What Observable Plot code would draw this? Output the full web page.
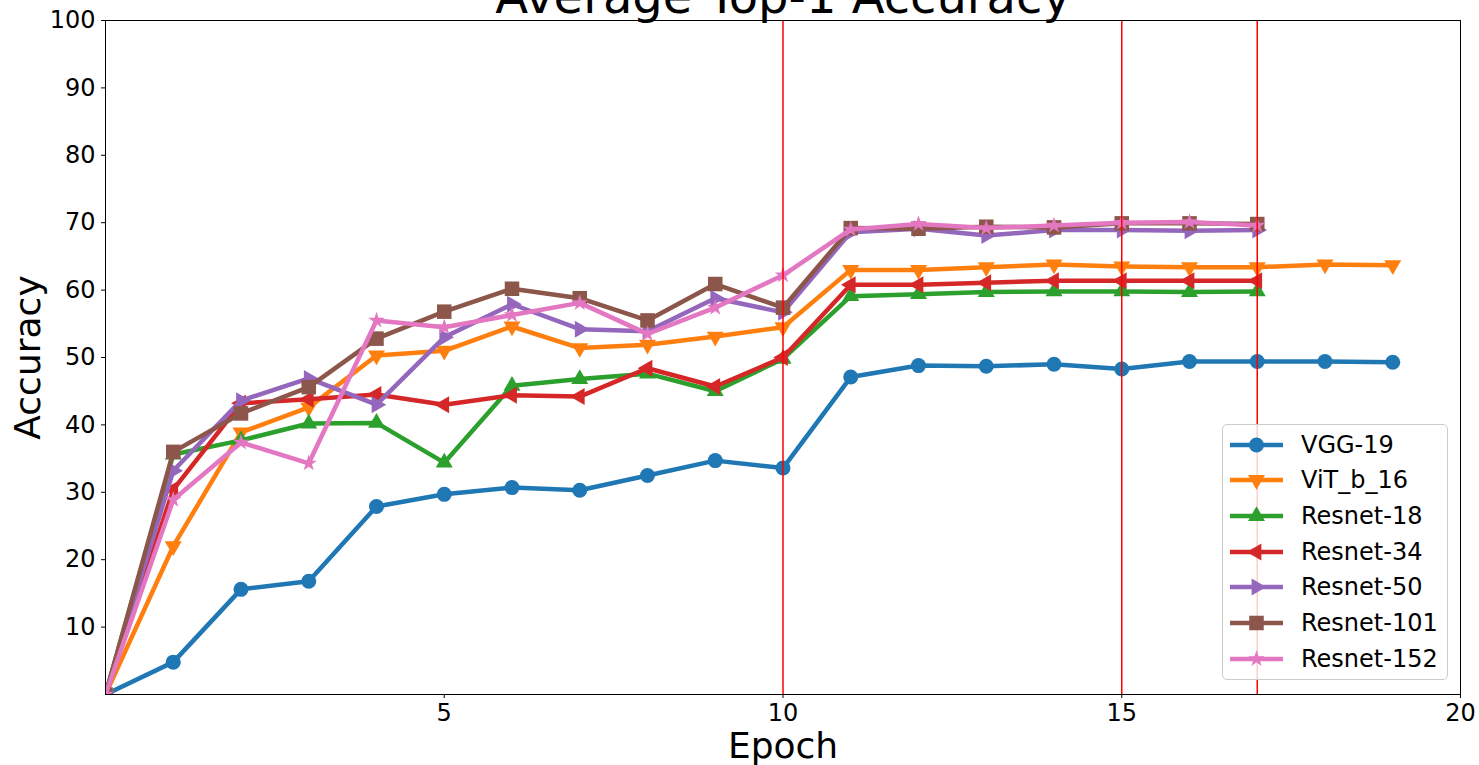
<!DOCTYPE html>
<html><head><meta charset="utf-8">
<script src="https://cdn.jsdelivr.net/npm/d3@7"></script>
<script src="https://cdn.jsdelivr.net/npm/@observablehq/plot@0.6"></script>
<style>
body{margin:0;background:#fff;}
#wrap{position:relative;width:1479px;height:765px;overflow:hidden;font-family:"DejaVu Sans",sans-serif;}
#legend{position:absolute;left:1222px;top:424px;width:224px;height:254px;background:rgba(255,255,255,0.8);border:1px solid #cccccc;border-radius:5px;box-sizing:content-box;}
.row{position:absolute;left:0;height:36px;display:flex;align-items:center;}
.row span{font-size:24px;color:#000;margin-left:3px;white-space:nowrap;}
</style>
</head><body><div id="wrap"></div>
<script>
const epochs = [0,1,2,3,4,5,6,7,8,9,10,11,12,13,14,15,16,17,18,19];
const vgg19    = [0, 4.8, 15.6, 16.8, 27.9, 29.7, 30.7, 30.3, 32.5, 34.7, 33.6, 47.1, 48.8, 48.7, 49.0, 48.3, 49.4, 49.4, 49.4, 49.3];
const vitB16   = [0, 22.0, 38.9, 42.6, 50.3, 51.0, 54.6, 51.4, 51.9, 53.1, 54.5, 63.0, 63.0, 63.4, 63.8, 63.5, 63.4, 63.4, 63.8, 63.7];
const resnet18 = [0, 35.6, 37.7, 40.2, 40.3, 34.4, 45.8, 46.8, 47.6, 45.0, 49.8, 59.1, 59.4, 59.7, 59.8, 59.8, 59.7, 59.8];
const resnet34 = [0, 30.4, 43.2, 43.8, 44.5, 43.0, 44.4, 44.2, 48.4, 45.7, 50.0, 60.8, 60.8, 61.1, 61.4, 61.4, 61.4, 61.4];
const resnet50 = [0, 33.2, 43.6, 46.9, 43.0, 53.0, 57.9, 54.2, 53.9, 58.8, 56.7, 68.6, 69.1, 68.1, 68.9, 68.9, 68.8, 68.9];
const resnet101= [0, 36.0, 41.7, 45.6, 52.8, 56.8, 60.2, 58.8, 55.5, 60.9, 57.4, 69.2, 69.1, 69.4, 69.3, 69.9, 69.9, 69.8];
const resnet152= [0, 28.9, 37.4, 34.3, 55.5, 54.5, 56.3, 58.1, 53.5, 57.4, 62.2, 69.0, 69.8, 69.2, 69.6, 70.0, 70.1, 69.6];
const seriesNames = ["VGG-19","ViT_b_16","Resnet-18","Resnet-34","Resnet-50","Resnet-101","Resnet-152"];
const seriesValues = [vgg19, vitB16, resnet18, resnet34, resnet50, resnet101, resnet152];
const colors = ["#1f77b4","#ff7f0e","#2ca02c","#d62728","#9467bd","#8c564b","#e377c2"];
const symbols = ["circle","triangle","triangle","triangle","triangle","square","star"];
const rotations = [0,180,0,-90,90,0,0];
const markerR = [7.5,6.3,6.3,6.3,6.3,8.2,5.2];
const milestones = [10,15,17];
const xTicks = [5,10,15,20];
const yTicks = [10,20,30,40,50,60,70,80,90,100];
const titleText = "Average Top-1 Accuracy";

const seriesMarks = seriesNames.flatMap((name, i) => {
  const data = seriesValues[i].map((v, j) => ({epoch: epochs[j], acc: v}));
  return [
    Plot.line(data, {x: "epoch", y: "acc", stroke: colors[i], strokeWidth: 4.5, clip: true}),
    Plot.dot(data, {x: "epoch", y: "acc", symbol: symbols[i], rotate: rotations[i], r: markerR[i], fill: colors[i], stroke: "none", clip: true})
  ];
});

const chart = Plot.plot({
  width: 1479, height: 765,
  marginLeft: 105, marginRight: 19, marginTop: 20, marginBottom: 71,
  style: {fontFamily: "DejaVu Sans, sans-serif", fontSize: "24px", color: "#000", background: "#fff", overflow: "visible"},
  x: {domain: [0, 20]},
  y: {domain: [0, 100]},
  marks: [
    ...seriesMarks,
    Plot.ruleX(milestones, {x: d => d, stroke: "#ff0000", strokeWidth: 1.5}),
    Plot.frame({stroke: "#000", strokeWidth: 1}),
    Plot.axisX({ticks: xTicks, tickSize: 4, tickPadding: 5, fontSize: 24, label: null, tickFormat: d => String(d)}),
    Plot.axisY({ticks: yTicks, tickSize: 4, tickPadding: 6, fontSize: 24, label: null, tickFormat: d => String(d)}),
    Plot.text(["Epoch"], {frameAnchor: "bottom", dy: 52, lineAnchor: "middle", textAnchor: "middle", text: d => d, fontSize: 36, fill: "#000"}),
    Plot.text(["Accuracy"], {frameAnchor: "left", dx: -77, rotate: -90, lineAnchor: "middle", textAnchor: "middle", text: d => d, fontSize: 36, fill: "#000"}),
    Plot.text([titleText], {frameAnchor: "top", dy: -8, lineAnchor: "bottom", textAnchor: "middle", text: d => d, fontSize: 48, fill: "#000"})
  ]
});
const wrap = document.getElementById("wrap");
wrap.appendChild(chart);

// legend
const legend = d3.select(wrap).append("div").attr("id", "legend");
const symMap = {circle: d3.symbolCircle, triangle: d3.symbolTriangle, square: d3.symbolSquare, star: d3.symbolStar};
seriesNames.forEach((name, i) => {
  const row = legend.append("div").attr("class", "row").style("top", (1.5 + i * 35.7) + "px");
  const svg = row.append("svg").attr("width", 68).attr("height", 36).style("margin-left", "7px");
  svg.append("line").attr("x1", 0).attr("x2", 53).attr("y1", 18).attr("y2", 18)
    .attr("stroke", colors[i]).attr("stroke-width", 4.5);
  svg.append("path").attr("d", d3.symbol(symMap[symbols[i]], Math.PI * markerR[i] * markerR[i])())
    .attr("transform", `translate(26.5,18) rotate(${rotations[i]})`).attr("fill", colors[i]);
  row.append("span").text(name);
});
</script>
</body></html>
